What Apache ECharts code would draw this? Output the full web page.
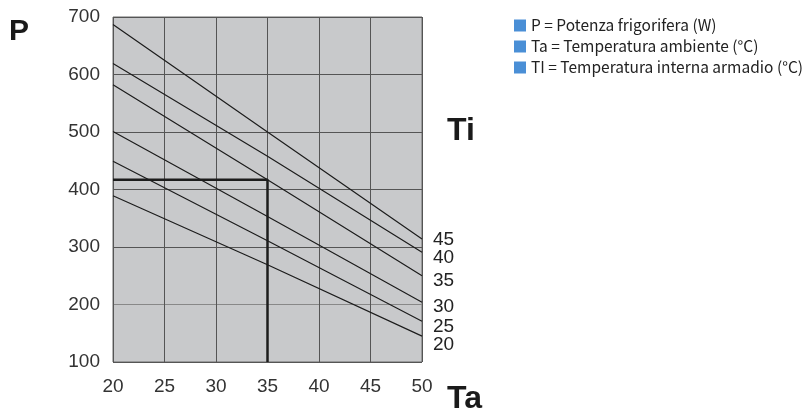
<!DOCTYPE html>
<html>
<head>
<meta charset="utf-8">
<script src="https://cdn.jsdelivr.net/npm/echarts@6/dist/echarts.min.js"></script>
<style>
html,body{margin:0;padding:0;background:#fff;}
#chart{width:806px;height:411px;}
</style>
</head>
<body>
<div id="chart"></div>
<script>
// Ambient temperature Ta (°C) sample points
var ta = [20, 35, 50];
// Cooling power P (W) for each internal cabinet temperature Ti
var tiNames = ['45', '40', '35', '30', '25', '20'];
var ti45 = [687, 500, 314];
var ti40 = [619, 458, 291];
var ti35 = [582, 417, 250];
var ti30 = [501, 353, 204];
var ti25 = [449, 311, 171];
var ti20 = [389, 269, 145];
// Example reading
var exampleTa = 35;
var exampleP = 417;
// Axis ticks
var xTicks = [20, 25, 30, 35, 40, 45, 50];
var yTicks = [100, 200, 300, 400, 500, 600, 700];
// Legend texts
var legendTexts = [
  'P = Potenza frigorifera (W)',
  'Ta = Temperatura ambiente (°C)',
  'TI = Temperatura interna armadio (°C)'
];

var tiSeries = [ti45, ti40, ti35, ti30, ti25, ti20];
var labelDy = [1, 6, 5, 5, 6, 9];

var chart = echarts.init(document.getElementById('chart'), null, {renderer: 'canvas'});
var series = [];
tiSeries.forEach(function (vals, i) {
  series.push({
    type: 'line',
    name: 'Ti ' + tiNames[i],
    data: ta.map(function (t, k) { return [t, vals[k]]; }),
    showSymbol: false,
    symbol: 'none',
    lineStyle: {color: '#1c1c1c', width: 1.2},
    endLabel: {
      show: true,
      formatter: tiNames[i],
      distance: 11,
      offset: [0, labelDy[i]],
      color: '#222',
      fontFamily: 'Liberation Sans',
      fontSize: 19
    },
    z: 3
  });
});
series.push({
  type: 'line',
  name: 'example',
  data: [[xTicks[0], exampleP], [exampleTa, exampleP], [exampleTa, yTicks[0]]],
  showSymbol: false,
  symbol: 'none',
  lineStyle: {color: '#1c1c1c', width: 2.5},
  z: 4
});
legendTexts.forEach(function (t) {
  series.push({type: 'line', name: t, data: [], itemStyle: {color: '#4a8fd6'}});
});

chart.setOption({
  animation: false,
  backgroundColor: '#fff',
  title: {
    text: 'Ti',
    left: 447,
    top: 115,
    padding: 0,
    textStyle: {fontFamily: 'Liberation Sans', fontWeight: 'bold', fontSize: 32, color: '#1a1a1a'}
  },
  graphic: [{
    type: 'text',
    left: 447,
    top: 383,
    style: {text: 'Ta', font: 'bold 32px "Liberation Sans"', fill: '#1a1a1a'}
  }],
  legend: {
    data: legendTexts,
    orient: 'vertical',
    left: 514,
    top: 15,
    padding: 0,
    itemWidth: 12,
    itemHeight: 12,
    itemGap: 0,
    icon: 'rect',
    selectedMode: false,
    textStyle: {fontFamily: 'Noto Sans CJK SC', fontSize: 15.5, lineHeight: 11, color: '#222', padding: [10, 0, 0, 0]}
  },
  grid: {
    left: 113, top: 17, right: 384, bottom: 49,
    show: true, backgroundColor: '#c8c9cb', borderColor: '#6a6a6a', borderWidth: 1
  },
  xAxis: {
    type: 'value', min: xTicks[0], max: xTicks[xTicks.length - 1], interval: 5,
    axisLine: {show: false}, axisTick: {show: false},
    axisLabel: {margin: 15, color: '#333', fontFamily: 'Liberation Sans', fontSize: 19},
    splitLine: {show: true, lineStyle: {color: '#555', width: 1}}
  },
  yAxis: {
    type: 'value', min: yTicks[0], max: yTicks[yTicks.length - 1], interval: 100,
    name: 'P', nameLocation: 'end', nameGap: -15, nameMoveOverlap: false,
    nameTextStyle: {fontFamily: 'Liberation Sans', fontWeight: 'bold', fontSize: 30, color: '#1a1a1a', verticalAlign: 'middle', align: 'right', padding: [0, 84, 0, 0]},
    axisLine: {show: false}, axisTick: {show: false},
    axisLabel: {margin: 13, color: '#333', fontFamily: 'Liberation Sans', fontSize: 19},
    splitLine: {show: true, lineStyle: {color: ['#555', '#888', '#555', '#555', '#555', '#555', '#555'], width: 1}}
  },
  series: series
});
</script>
</body>
</html>
